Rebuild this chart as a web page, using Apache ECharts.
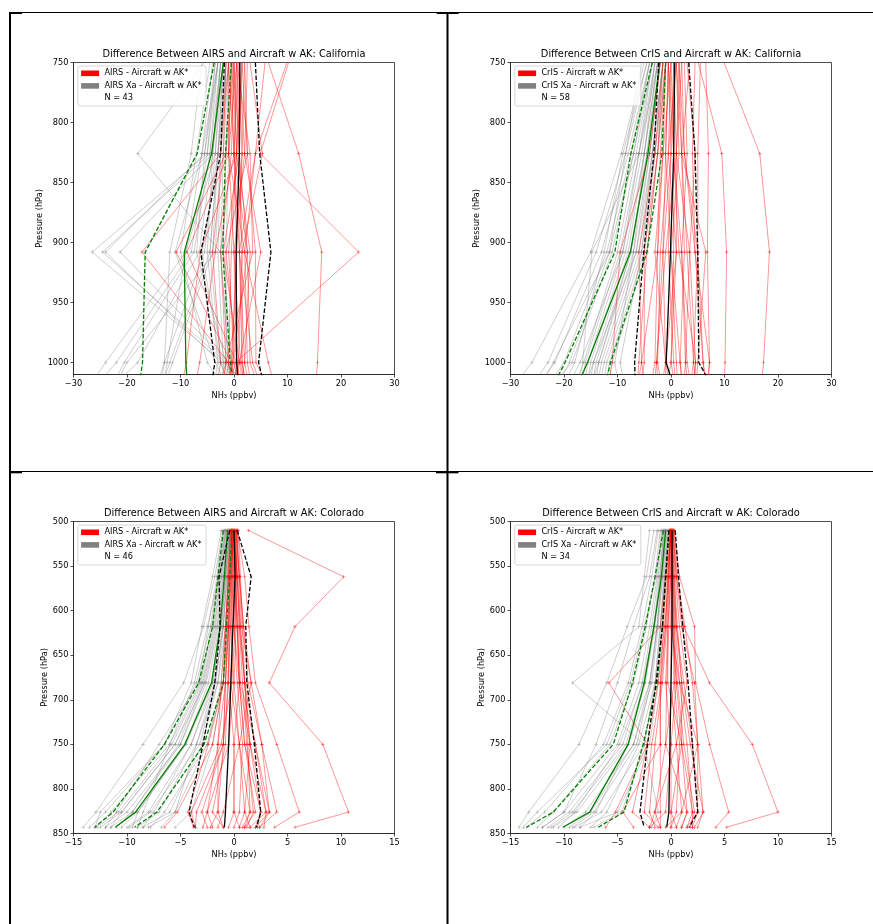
<!DOCTYPE html>
<html>
<head>
<meta charset="utf-8">
<script src="https://cdn.jsdelivr.net/npm/echarts@6/dist/echarts.min.js"></script>
<style>
  html, body { margin: 0; padding: 0; background: #fff; }
  #chart { width: 873px; height: 924px; }
</style>
</head>
<body>
<div id="chart"></div>
<script>
// ---------------- data ----------------
// pressure levels (hPa) of the retrieved profiles
const caLevels = [750, 826, 908, 1000, 1013];
const coLevels = [510, 562, 618, 681, 750, 826, 843];

const caTicksY = [750, 800, 850, 900, 950, 1000];
const coTicksY = [500, 550, 600, 650, 700, 750, 800, 850];
const caTicksX = [-30, -20, -10, 0, 10, 20, 30];
const coTicksX = [-15, -10, -5, 0, 5, 10, 15];

const titles = [
  'Difference Between AIRS and Aircraft w AK: California',
  'Difference Between CrIS and Aircraft w AK: California',
  'Difference Between AIRS and Aircraft w AK: Colorado',
  'Difference Between CrIS and Aircraft w AK: Colorado'
];
const retLabels = ['AIRS - Aircraft w AK*', 'CrIS - Aircraft w AK*', 'AIRS - Aircraft w AK*', 'CrIS - Aircraft w AK*'];
const xaLabels = ['AIRS Xa - Aircraft w AK*', 'CrIS Xa - Aircraft w AK*', 'AIRS Xa - Aircraft w AK*', 'CrIS Xa - Aircraft w AK*'];
const sampleCounts = [43, 58, 46, 34];
const xAxisName = 'NH\u2083 (ppbv)';
const yAxisName = 'Pressure (hPa)';

// AIRS, California (values at caLevels, ppbv)
const airsCaRet = [
  [10.2, 4.9, 23.3, 0.3, -0.5],
  [6.4, 12.1, 16.4, 15.6, 15.4],
  [5.8, 4.0, 2.0, 6.4, 7.2],
  [-1.0, -2.5, -17.2, -1.0, -1.5],
  [0.0, -1.5, -10.8, -0.5, 0.0],
  [0.5, -1.0, -8.8, 0.5, 1.0],
  [1.0, 0.5, -6.3, -8.9, -9.5],
  [0.5, 0.0, -3.5, -6.4, -7.0],
  [1.5, 1.0, 2.5, 3.0, 4.0],
  [2.0, 2.5, 4.0, 4.1, 5.5],
  [-0.5, 0.0, 1.0, 1.5, 2.0],
  [0.0, 0.5, -1.0, 0.0, 0.5],
  [1.0, 1.5, 0.5, -0.5, -1.0],
  [-0.5, -1.0, 2.0, 2.5, 3.0],
  [2.5, 2.0, 5.0, 1.0, 0.5],
  [0.5, 3.0, 3.5, -1.5, -2.0],
  [-1.5, -2.0, -4.0, -2.5, -3.0],
  [1.5, 2.5, -1.5, 0.5, 1.0],
  [3.0, 5.3, 1.5, 1.5, 2.0],
  [-1.0, 0.0, 0.5, -0.3, -0.8],
  [0.0, 1.0, -2.0, 1.0, 1.5],
  [9.9, 4.0, 1.0, 2.0, 1.5],
  [0.5, 1.0, 1.5, 0.8, 0.3],
  [1.5, 0.5, -0.5, -1.0, -0.5],
  [-0.3, 0.5, 3.0, 2.0, 2.5],
  [1.0, 2.0, 0.0, 1.2, 1.8],
  [0.0, -0.5, -2.5, -1.5, -1.8],
  [2.0, 1.5, 1.0, 3.5, 4.5],
  [-1.0, -1.0, 0.0, 0.5, 0.2],
  [0.8, 0.0, 2.5, -0.2, -0.5]
];
const airsCaXa = [
  [-3.0, -5.0, -26.5, -2.0, 0.8],
  [-2.5, -4.5, -24.6, -1.5, 1.0],
  [-3.5, -5.5, -24.0, -2.5, 0.0],
  [-2.0, -4.0, -21.3, -1.0, 0.5],
  [-4.0, -6.0, -9.0, -24.0, -26.0],
  [-3.5, -5.0, -8.0, -22.0, -24.5],
  [-3.0, -4.5, -7.5, -20.5, -22.0],
  [-2.5, -4.0, -6.5, -18.0, -21.0],
  [-2.5, -3.5, -5.5, -13.0, -13.5],
  [-2.0, -3.0, -4.5, -12.0, -13.0],
  [-2.0, -3.0, -4.0, -11.5, -12.5],
  [-1.5, -2.5, -3.5, -20.0, -21.5],
  [-1.5, -2.5, -3.0, -2.0, -2.0],
  [-1.0, -2.0, -2.5, -1.0, -1.0],
  [-1.0, -1.5, -2.0, -0.5, -0.5],
  [-0.5, -1.0, -1.5, -1.5, -2.5],
  [-2.5, -4.0, -5.0, -3.0, -3.5],
  [-5.5, -18.0, -2.5, -1.0, -0.5],
  [-3.0, -6.0, -11.0, -3.5, -2.0],
  [-2.0, -3.5, -9.0, -12.5, -13.0],
  [-1.0, -3.0, -6.0, -2.5, -1.5],
  [-4.5, -7.0, -10.0, -5.0, -3.0],
  [-1.5, -3.0, -4.5, -2.5, -1.5],
  [-3.0, -5.5, -7.0, -1.5, 0.5],
  [-6.0, -8.0, -12.0, -13.0, -14.0]
];
const airsCaRetMean = [1.1, 1.0, 0.4, 0.5, 0.7];
const airsCaRetLo = [-1.8, -2.5, -6.2, -3.6, -4.0];
const airsCaRetHi = [4.0, 4.8, 6.9, 4.6, 5.3];
const airsCaXaMean = [-2.0, -4.2, -9.3, -9.0, -8.8];
const airsCaXaLo = [-3.7, -6.9, -16.6, -17.1, -17.5];
const airsCaXaHi = [-0.5, -1.6, -2.1, -0.7, -0.3];

// CrIS, California
const crisCaRet = [
  [9.9, 16.6, 18.4, 17.3, 17.0],
  [5.1, 9.5, 10.4, 10.1, 10.0],
  [6.5, 7.0, 6.8, 7.2, 6.9],
  [5.5, 5.0, 5.0, 6.0, 6.5],
  [3.0, 4.5, 3.5, 4.6, 4.2],
  [2.0, 2.5, 5.0, 4.2, 3.8],
  [1.5, 1.0, 3.5, 2.7, 2.5],
  [1.0, 2.0, 2.5, 1.7, 2.0],
  [0.5, 0.5, 0.5, 0.0, 0.5],
  [0.0, -0.5, 1.0, -1.0, -0.5],
  [-0.5, -1.0, -1.5, -2.7, -2.5],
  [-1.0, -2.0, -2.5, -3.0, -3.5],
  [-1.5, -3.0, -6.0, -5.5, -5.0],
  [-2.0, -4.0, -9.5, -11.0, -11.5],
  [-1.0, -2.5, -5.0, -5.0, -5.5],
  [0.5, 0.0, -1.5, -1.0, -1.5],
  [1.0, 1.5, 0.0, 1.0, 1.2],
  [2.5, 3.0, 2.0, 2.7, 3.0],
  [-0.5, 0.5, 1.5, 4.6, 4.5],
  [1.5, 2.0, 6.5, 5.0, 4.8],
  [0.0, -1.5, -3.0, -1.0, -1.0],
  [-1.5, -2.5, -4.5, -6.0, -6.2],
  [4.5, 4.0, 4.5, 7.2, 7.0],
  [-0.5, 0.0, -0.5, 0.5, 0.8],
  [0.0, 0.5, 2.0, 3.0, 3.5],
  [1.0, -0.5, -2.0, -2.5, -2.0],
  [-0.5, -1.0, 0.0, 1.7, 2.0],
  [2.0, 1.0, 1.0, 0.0, -0.5],
  [0.5, 1.0, -1.0, -2.7, -3.0],
  [3.5, 2.0, 3.0, 4.2, 4.5],
  [-1.0, -1.5, -2.5, -5.5, -6.0],
  [1.5, 2.5, 4.5, 6.0, 6.3]
];
const crisCaXa = [
  [-5.0, -9.3, -15.0, -26.0, -28.3],
  [-4.5, -8.5, -14.0, -23.0, -25.0],
  [-4.0, -8.0, -13.0, -21.7, -24.0],
  [-4.0, -7.5, -12.0, -20.0, -22.0],
  [-3.5, -7.0, -11.0, -18.5, -21.0],
  [-3.5, -6.5, -10.0, -16.3, -17.5],
  [-3.0, -6.0, -9.5, -16.0, -16.5],
  [-3.0, -5.5, -9.0, -15.5, -16.0],
  [-2.5, -5.0, -8.5, -15.0, -15.5],
  [-2.5, -5.0, -8.0, -14.5, -15.0],
  [-2.0, -4.5, -7.5, -14.0, -14.5],
  [-2.0, -4.0, -7.0, -13.5, -14.0],
  [-2.0, -4.0, -6.5, -13.0, -13.5],
  [-1.5, -3.5, -6.0, -12.5, -13.0],
  [-1.5, -3.5, -5.5, -12.0, -12.5],
  [-1.0, -3.0, -5.0, -11.5, -12.0],
  [-1.0, -2.5, -4.5, -11.0, -11.5],
  [-2.5, -6.0, -14.8, -16.5, -17.0],
  [-3.0, -5.0, -7.0, -10.5, -10.0],
  [-1.5, -3.5, -6.5, -14.5, -15.5],
  [-4.5, -9.0, -12.5, -18.0, -19.5],
  [-5.5, -8.5, -11.5, -22.0, -23.5],
  [-3.5, -6.0, -9.0, -17.0, -18.5],
  [-2.5, -4.5, -7.5, -13.5, -14.5],
  [-4.0, -7.0, -11.5, -19.0, -20.5],
  [-1.5, -3.0, -5.5, -9.5, -9.0]
];
const crisCaRetMean = [0.7, 0.5, -0.1, -0.9, 0.0];
const crisCaRetLo = [-2.3, -3.2, -5.1, -6.8, -6.7];
const crisCaRetHi = [3.3, 4.5, 5.0, 5.2, 6.8];
const crisCaXaMean = [-2.1, -4.3, -7.6, -15.6, -16.9];
const crisCaXaLo = [-3.5, -7.5, -10.5, -19.8, -21.3];
const crisCaXaHi = [-1.0, -1.7, -4.5, -11.3, -12.0];

// AIRS, Colorado (values at coLevels)
const airsCoRet = [
  [1.35, 10.25, 5.7, 3.3, 8.3, 10.7, 5.7],
  [0.3, 1.0, 1.4, 2.0, 4.0, 6.1, 3.8],
  [0.2, 0.5, 0.9, 1.6, 2.6, 4.0, 2.4],
  [0.0, 0.3, 0.5, 1.0, 2.0, 3.3, 2.0],
  [-0.2, 0.0, 0.3, 0.5, 1.5, 3.0, 1.5],
  [0.1, 0.2, 0.0, 0.5, 1.0, 2.0, 1.0],
  [-0.1, -0.2, -0.3, 0.0, 0.5, 1.0, 0.5],
  [0.0, -0.3, -0.5, -0.5, 0.0, 0.0, -0.5],
  [-0.3, -0.5, -0.8, -1.2, -1.5, -2.5, -2.0],
  [-0.2, -0.4, -0.5, -0.8, -1.0, -1.5, -1.0],
  [-0.4, -0.5, -0.8, -1.0, -2.4, -4.3, -3.8],
  [-0.3, -0.6, -0.7, -1.0, -2.0, -5.3, -6.5],
  [-0.1, -0.2, -0.4, -0.5, -1.0, -3.5, -3.6],
  [0.2, 0.4, 0.6, 1.0, 1.5, 1.0, 1.5],
  [0.3, 0.5, 0.9, 1.3, 2.6, 3.3, 2.4],
  [-0.2, -0.1, 0.2, 0.0, -0.5, -2.5, -2.9],
  [0.1, 0.0, -0.2, -0.3, 0.5, 1.5, 1.0],
  [0.0, 0.2, 0.3, 0.5, 1.0, 2.5, 2.2],
  [-0.2, -0.3, -0.5, -0.8, -1.5, -1.5, -2.2],
  [0.2, 0.5, 0.7, 1.6, 0.5, -1.0, -1.5],
  [-0.1, 0.1, 0.3, 0.5, 0.0, 0.0, 0.5],
  [0.4, 0.6, 0.8, 1.0, 1.5, 2.5, 2.0],
  [0.1, 0.3, 0.5, 0.8, 1.2, 1.8, 1.2],
  [-0.3, -0.2, 0.0, 0.3, 0.8, 0.5, 0.0],
  [0.0, -0.1, -0.3, -0.6, -0.8, -2.0, -1.0],
  [0.2, 0.1, 0.4, 0.6, 2.0, 3.0, 2.8],
  [-0.1, -0.4, -0.6, -0.8, -1.0, -3.0, -2.5],
  [0.3, 0.2, 0.1, -0.2, -1.2, -4.0, -3.6],
  [0.0, 0.3, 0.6, 1.0, 1.3, 1.5, 0.8]
];
const airsCoXa = [
  [-1.0, -1.8, -2.85, -4.7, -8.5, -12.9, -14.1],
  [-0.9, -1.5, -2.2, -3.5, -6.5, -12.0, -13.5],
  [-0.8, -1.3, -2.0, -3.2, -6.0, -11.5, -13.0],
  [-0.8, -1.2, -1.9, -3.0, -5.5, -10.5, -12.5],
  [-0.7, -1.1, -1.7, -2.8, -5.0, -10.0, -12.0],
  [-0.6, -1.0, -1.5, -2.6, -5.0, -9.5, -11.0],
  [-0.6, -0.9, -1.4, -2.4, -4.5, -9.0, -10.5],
  [-0.5, -0.8, -1.2, -2.0, -4.0, -8.0, -10.0],
  [-0.5, -0.8, -1.2, -2.0, -4.5, -9.0, -9.5],
  [-0.4, -0.7, -1.0, -1.8, -3.5, -7.0, -9.0],
  [-0.4, -0.6, -1.0, -1.5, -3.0, -6.0, -8.5],
  [-0.3, -0.5, -0.8, -1.5, -3.5, -5.5, -8.0],
  [-0.3, -0.5, -0.8, -1.2, -2.5, -6.5, -7.8],
  [-0.2, -0.4, -0.6, -1.0, -2.5, -5.5, -6.8],
  [-1.2, -2.0, -3.0, -4.0, -6.5, -12.5, -13.0],
  [-0.8, -1.4, -2.5, -3.7, -6.0, -8.5, -9.0],
  [-0.6, -1.0, -1.6, -2.7, -5.5, -10.5, -11.5],
  [-0.2, -0.3, -0.5, -1.0, -2.0, -4.0, -5.5],
  [-0.5, -0.7, -1.0, -1.8, -4.0, -7.5, -8.5],
  [-1.1, -1.6, -2.4, -3.3, -7.0, -11.0, -12.0],
  [-0.7, -1.2, -1.8, -2.9, -5.2, -9.5, -11.5],
  [-0.4, -0.8, -1.1, -1.7, -3.2, -7.8, -9.8],
  [-0.9, -1.4, -2.1, -3.1, -5.8, -10.8, -12.8]
];
const airsCoRetMean = [0.0, 0.1, -0.1, -0.3, -0.5, -0.8, -0.9];
const airsCoRetLo = [-0.4, -1.4, -1.3, -1.8, -2.9, -4.2, -3.7];
const airsCoRetHi = [0.3, 1.6, 1.1, 1.2, 1.9, 2.5, 2.1];
const airsCoXaMean = [-0.6, -0.9, -1.3, -2.1, -4.6, -9.2, -11.1];
const airsCoXaLo = [-1.0, -1.5, -2.0, -3.3, -6.5, -11.3, -13.0];
const airsCoXaHi = [-0.2, -0.4, -0.7, -1.0, -2.8, -7.2, -9.3];

// CrIS, Colorado
const crisCoRet = [
  [0.2, 0.5, 1.2, 3.6, 7.6, 10.0, 5.2],
  [0.3, 0.8, 2.2, 2.3, 3.6, 5.4, 4.2],
  [0.2, 0.5, 1.0, 2.2, 2.5, 3.0, 2.2],
  [0.1, 0.3, 0.5, 1.2, 2.0, 2.5, 2.0],
  [0.0, 0.2, 0.4, 0.8, 1.5, 2.0, 1.5],
  [0.1, 0.1, 0.2, 0.5, 1.0, 1.5, 1.0],
  [0.0, 0.0, 0.0, 0.0, 0.5, 1.0, 0.5],
  [-0.1, -0.2, -0.3, -0.5, 0.0, 0.0, 0.0],
  [0.0, -0.3, -0.5, -1.0, -1.0, -1.0, -1.0],
  [-0.1, -0.2, -0.4, -0.8, -1.5, -2.0, -1.5],
  [0.1, -0.5, -1.0, -5.8, -2.2, -5.2, -6.1],
  [0.0, -0.2, -0.6, -1.2, -2.2, -3.6, -2.0],
  [-0.2, -0.4, -0.7, -1.0, -1.0, -4.5, -3.5],
  [0.2, 0.4, 0.8, 1.5, 0.5, -1.5, -1.0],
  [0.1, 0.2, 0.5, 1.0, 1.0, 0.0, 0.5],
  [0.3, 0.6, 1.3, 2.0, 2.5, 2.5, 1.5],
  [-0.1, 0.0, 0.1, 0.5, 0.0, -0.5, -2.0],
  [0.0, 0.1, 0.3, 0.3, -0.5, 1.5, 1.0],
  [0.2, 0.0, -0.3, -0.3, 1.0, 2.0, 2.0],
  [0.0, 0.1, 0.0, 0.8, 2.5, 1.0, -0.5],
  [0.1, 0.2, 0.3, 0.6, 1.2, 2.2, 1.8],
  [-0.1, -0.1, -0.2, -0.4, -0.5, -1.5, -2.0],
  [0.0, 0.1, 0.2, 0.3, 0.8, 0.5, 0.0],
  [0.2, 0.3, 0.6, 1.0, 1.8, 3.0, 2.5],
  [-0.1, -0.3, -0.5, -0.9, -1.8, -2.5, -1.2]
];
const crisCoXa = [
  [-2.0, -2.5, -3.0, -9.2, -2.5, -1.2, -1.8],
  [-1.6, -2.3, -4.1, -6.0, -8.6, -13.3, -14.2],
  [-1.2, -1.8, -2.7, -4.0, -6.3, -11.8, -13.5],
  [-1.0, -1.5, -2.3, -3.5, -5.7, -11.0, -12.5],
  [-0.9, -1.3, -2.0, -3.0, -5.0, -10.0, -12.0],
  [-0.8, -1.2, -1.8, -2.7, -4.5, -9.5, -11.5],
  [-0.7, -1.0, -1.5, -2.4, -4.0, -8.8, -11.0],
  [-0.6, -0.9, -1.3, -2.0, -3.5, -8.0, -10.0],
  [-0.5, -0.8, -1.2, -1.8, -3.5, -7.5, -9.5],
  [-0.5, -0.7, -1.0, -1.5, -2.5, -6.5, -9.0],
  [-0.4, -0.6, -0.9, -1.4, -2.5, -4.6, -7.2],
  [-0.3, -0.5, -0.8, -1.2, -2.0, -5.0, -8.5],
  [-0.8, -1.4, -2.5, -3.8, -6.0, -12.5, -13.8],
  [-0.6, -1.1, -1.6, -2.6, -4.8, -9.0, -10.5],
  [-0.4, -0.8, -1.3, -2.0, -4.0, -7.0, -8.5],
  [-0.3, -0.6, -1.0, -1.5, -3.0, -6.0, -7.5],
  [-1.3, -2.0, -3.5, -5.0, -7.0, -10.0, -12.0],
  [-0.7, -1.0, -1.6, -2.5, -4.2, -9.2, -11.2],
  [-0.5, -0.9, -1.3, -1.9, -3.2, -7.2, -9.2]
];
const crisCoRetMean = [0.1, 0.1, 0.1, 0.0, -0.1, -0.2, -0.4];
const crisCoRetLo = [-0.2, -0.5, -0.8, -1.4, -2.2, -2.9, -2.5];
const crisCoRetHi = [0.4, 0.7, 1.1, 1.6, 2.0, 2.5, 1.7];
const crisCoXaMean = [-0.5, -0.9, -1.6, -2.5, -4.0, -7.6, -10.1];
const crisCoXaLo = [-0.7, -1.5, -2.4, -3.6, -5.4, -11.0, -13.5];
const crisCoXaHi = [-0.2, -0.5, -0.8, -1.3, -2.6, -4.4, -6.8];

// ---------------- panel setup ----------------
const panels = [
  { levels: caLevels, ticksX: caTicksX, ticksY: caTicksY, xRange: [-30, 30], yRange: [750, 1010], xStep: 10,
    ret: airsCaRet, xa: airsCaXa, retStats: [airsCaRetMean, airsCaRetLo, airsCaRetHi], xaStats: [airsCaXaMean, airsCaXaLo, airsCaXaHi] },
  { levels: caLevels, ticksX: caTicksX, ticksY: caTicksY, xRange: [-30, 30], yRange: [750, 1010], xStep: 10,
    ret: crisCaRet, xa: crisCaXa, retStats: [crisCaRetMean, crisCaRetLo, crisCaRetHi], xaStats: [crisCaXaMean, crisCaXaLo, crisCaXaHi] },
  { levels: coLevels, ticksX: coTicksX, ticksY: coTicksY, xRange: [-15, 15], yRange: [500, 850], xStep: 5,
    ret: airsCoRet, xa: airsCoXa, retStats: [airsCoRetMean, airsCoRetLo, airsCoRetHi], xaStats: [airsCoXaMean, airsCoXaLo, airsCoXaHi] },
  { levels: coLevels, ticksX: coTicksX, ticksY: coTicksY, xRange: [-15, 15], yRange: [500, 850], xStep: 5,
    ret: crisCoRet, xa: crisCoXa, retStats: [crisCoRetMean, crisCoRetLo, crisCoRetHi], xaStats: [crisCoXaMean, crisCoXaLo, crisCoXaHi] }
];

// plot-area placement of the 2x2 figure
const FONT = "'DejaVu Sans', sans-serif";
const PW = 321, PH = 312;
const boxes = [
  { left: 73.5, top: 62.5, yNameGap: 27 },
  { left: 510.5, top: 62.5, yNameGap: 27 },
  { left: 73.5, top: 521.5, yNameGap: 23 },
  { left: 510.5, top: 521.5, yNameGap: 23 }
];

const RED = 'rgba(255,0,0,0.55)';
const GRAY = 'rgba(128,128,128,0.5)';
const PLUS = 'path://M2,0H3V2H5V3H3V5H2V3H0V2H2Z';

const fmtTick = v => (v < 0 ? '\u2212' + Math.abs(v) : String(v));

function toPoints(levels, values) {
  return values.map((x, i) => [x, levels[i]]);
}

const grid = [], xAxis = [], yAxis = [], series = [], graphic = [];

const measureCtx = document.createElement('canvas').getContext('2d');
measureCtx.font = "8.2px 'DejaVu Sans'";

panels.forEach((p, k) => {
  const b = boxes[k];
  grid.push({ left: b.left, top: b.top, width: PW, height: PH, show: true,
    borderColor: '#222', borderWidth: 0.8, backgroundColor: 'transparent' });

  xAxis.push({
    gridIndex: k, type: 'value', min: p.xRange[0], max: p.xRange[1], interval: p.xStep,
    axisLine: { show: true, onZero: false, lineStyle: { color: '#222', width: 0.8 } },
    axisTick: { show: true, length: 3, customValues: p.ticksX, lineStyle: { color: '#222', width: 0.8 } },
    axisLabel: { customValues: p.ticksX, formatter: fmtTick, color: '#000', fontSize: 8.2, fontFamily: FONT, margin: 5 },
    splitLine: { show: false },
    name: xAxisName, nameLocation: 'middle', nameGap: 17,
    nameTextStyle: { color: '#000', fontSize: 8.2, fontFamily: FONT }
  });
  yAxis.push({
    gridIndex: k, type: 'value', min: p.yRange[0], max: p.yRange[1], inverse: true, interval: 50,
    axisLine: { show: true, onZero: false, lineStyle: { color: '#222', width: 0.8 } },
    axisTick: { show: true, length: 3, customValues: p.ticksY, lineStyle: { color: '#222', width: 0.8 } },
    axisLabel: { customValues: p.ticksY, formatter: v => String(v), color: '#000', fontSize: 8.2, fontFamily: FONT, margin: 5 },
    splitLine: { show: false },
    name: yAxisName, nameLocation: 'middle', nameGap: b.yNameGap, nameRotate: 90,
    nameTextStyle: { color: '#000', fontSize: 8.2, fontFamily: FONT }
  });

  const yTop = p.yRange[0];
  const symSize = v => (v[1] <= yTop ? 0 : 3.5);
  const profileSeries = (values, color) => ({
    type: 'line', xAxisIndex: k, yAxisIndex: k, data: toPoints(p.levels, values),
    symbol: PLUS, symbolSize: symSize, showSymbol: true,
    lineStyle: { color: color, width: 0.75 }, itemStyle: { color: color },
    clip: true, silent: true, animation: false, z: 2
  });
  p.xa.forEach(v => series.push(profileSeries(v, GRAY)));
  p.ret.forEach(v => series.push(profileSeries(v, RED)));

  const statSeries = (values, color, dashed) => ({
    type: 'line', xAxisIndex: k, yAxisIndex: k, data: toPoints(p.levels, values),
    showSymbol: false, symbol: 'none',
    lineStyle: { color: color, width: 1.3, type: dashed ? [4.5, 2] : 'solid' },
    clip: true, silent: true, animation: false, z: 3
  });
  series.push(statSeries(p.xaStats[0], '#008000', false));
  series.push(statSeries(p.xaStats[1], '#008000', true));
  series.push(statSeries(p.xaStats[2], '#008000', true));
  series.push(statSeries(p.retStats[0], '#000', false));
  series.push(statSeries(p.retStats[1], '#000', true));
  series.push(statSeries(p.retStats[2], '#000', true));

  // panel title
  graphic.push({ type: 'text', x: b.left + PW / 2, y: b.top - 8.5, z: 10,
    style: { text: titles[k], fill: '#000', font: "9.8px 'DejaVu Sans'",
      align: 'center', verticalAlign: 'middle', textAlign: 'center', textVerticalAlign: 'middle' } });

  // legend block
  const labels = [retLabels[k], xaLabels[k], 'N = ' + sampleCounts[k]];
  const textW = Math.max.apply(null, labels.map(t => measureCtx.measureText(t).width));
  const lx = b.left + 4.3, ly = b.top + 3.5;
  const lw = 26.6 + textW + 4.5, lh = 40;
  graphic.push({ type: 'rect', x: lx, y: ly, z: 10,
    shape: { width: lw, height: lh, r: 2 },
    style: { fill: 'rgba(255,255,255,0.8)', stroke: '#cccccc', lineWidth: 0.8 } });
  const rows = [7.3, 19.9, 32.3];
  const patchColors = ['#ff0000', '#808080', null];
  rows.forEach((dy, i) => {
    if (patchColors[i]) {
      graphic.push({ type: 'rect', x: lx + 3.3, y: ly + dy - 2.8, z: 11,
        shape: { width: 18, height: 5.6 }, style: { fill: patchColors[i] } });
    }
    graphic.push({ type: 'text', x: lx + 26.6, y: ly + dy, z: 11,
      style: { text: labels[i], fill: '#000', font: "8.2px 'DejaVu Sans'",
        align: 'left', verticalAlign: 'middle', textAlign: 'left', textVerticalAlign: 'middle' } });
  });
});

// outer frame lines around the four panels
const frame = [
  { type: 'rect', shape: { x: 9, y: 12, width: 2, height: 912 } },
  { type: 'rect', shape: { x: 446.5, y: 12, width: 2, height: 912 } },
  { type: 'rect', shape: { x: 10, y: 12, width: 863, height: 1 } },
  { type: 'rect', shape: { x: 9, y: 12, width: 13, height: 2 } },
  { type: 'rect', shape: { x: 436.7, y: 12, width: 22, height: 2 } },
  { type: 'rect', shape: { x: 10, y: 471, width: 863, height: 1 } },
  { type: 'rect', shape: { x: 10, y: 471, width: 12, height: 2.3 } },
  { type: 'rect', shape: { x: 436, y: 471, width: 22.5, height: 2.3 } }
];
frame.forEach(f => graphic.push(Object.assign({ z: 20, style: { fill: '#000' } }, f)));

const chart = echarts.init(document.getElementById('chart'), null, { renderer: 'canvas' });
chart.setOption({
  animation: false,
  backgroundColor: '#fff',
  grid: grid,
  xAxis: xAxis,
  yAxis: yAxis,
  series: series,
  graphic: graphic
});
</script>
</body>
</html>
